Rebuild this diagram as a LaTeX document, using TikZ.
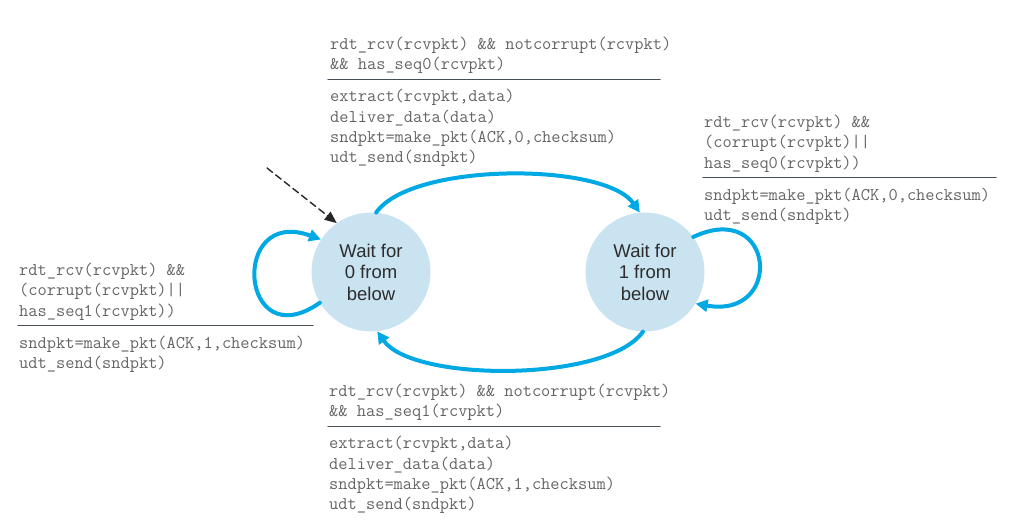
\documentclass[tikz,border=0pt]{standalone}
\usepackage{fontspec}
\setsansfont{Liberation Sans}
\usetikzlibrary{arrows.meta,positioning,calc}
\definecolor{statefill}{RGB}{201,227,241}
\definecolor{arcblue}{RGB}{0,168,228}
\definecolor{codegray}{RGB}{100,100,100}
\definecolor{rulegray}{RGB}{70,77,90}
\definecolor{statetext}{RGB}{45,45,45}
\begin{document}
\begin{tikzpicture}[x=1pt,y=1pt,line cap=round,line join=round,
    state/.style={circle,fill=statefill,minimum size=119pt,inner sep=0pt,align=center,
        text=statetext,font=\sffamily\fontsize{18.5}{21.5}\selectfont},
    guard/.style={anchor=north west,inner sep=0pt,align=left,text=codegray,
        font=\ttfamily\fontsize{17.9}{20.3}\selectfont},
    trans/.style={draw=arcblue,line width=4pt,-{Triangle[length=12pt,width=12pt]}},
    init/.style={draw=black!85,line width=1.4pt,dash pattern=on 7pt off 4pt,
        -{Triangle[length=12pt,width=10pt]}},
    sep/.style={draw=rulegray,line width=1.5pt}]
    \useasboundingbox (0,0) rectangle (1029,531);
    % states
    \node[state] (w0) at (371,259) {Wait for\\0 from\\below};
    \node[state] (w1) at (645,259) {Wait for\\1 from\\below};
    % top: 0 -> 1
    \node[guard] (g0) at (330,494) {rdt\_rcv(rcvpkt) \&\& notcorrupt(rcvpkt)\\\&\& has\_seq0(rcvpkt)};
    \node[guard,below=15pt of g0.south west,anchor=north west] (a0) {extract(rcvpkt,data)\\deliver\_data(data)\\sndpkt=make\_pkt(ACK,0,checksum)\\udt\_send(sndpkt)};
    \draw[sep] ($(g0.south west)!0.35!(a0.north west)+(-2,0)$) -- ++(332,0);
    % right: 1 -> 1
    \node[guard] (g1) at (704,416) {rdt\_rcv(rcvpkt) \&\&\\(corrupt(rcvpkt)||\\has\_seq0(rcvpkt))};
    \node[guard,below=15pt of g1.south west,anchor=north west] (a1) {sndpkt=make\_pkt(ACK,0,checksum)\\udt\_send(sndpkt)};
    \draw[sep] ($(g1.south west)!0.35!(a1.north west)+(-1,0)$) -- ++(293,0);
    % left: 0 -> 0
    \node[guard] (g2) at (19,268) {rdt\_rcv(rcvpkt) \&\&\\(corrupt(rcvpkt)||\\has\_seq1(rcvpkt))};
    \node[guard,below=15pt of g2.south west,anchor=north west] (a2) {sndpkt=make\_pkt(ACK,1,checksum)\\udt\_send(sndpkt)};
    \draw[sep] ($(g2.south west)!0.35!(a2.north west)+(-1,0)$) -- ++(295,0);
    % bottom: 1 -> 0
    \node[guard] (g3) at (329,147) {rdt\_rcv(rcvpkt) \&\& notcorrupt(rcvpkt)\\\&\& has\_seq1(rcvpkt)};
    \node[guard,below=15pt of g3.south west,anchor=north west] (a3) {extract(rcvpkt,data)\\deliver\_data(data)\\sndpkt=make\_pkt(ACK,1,checksum)\\udt\_send(sndpkt)};
    \draw[sep] ($(g3.south west)!0.35!(a3.north west)+(-1,0)$) -- ++(332,0);
    % transitions
    \draw[trans] (w0.85) to[out=55,in=125,looseness=0.6] (w1.95);
    \draw[trans] (w1.268) to[out=235,in=-55,looseness=0.6] (w0.276);
    \draw[trans] (w0.211) to[out=215,in=160,looseness=3.95] (w0.147);
    \draw[trans] (w1.36) to[out=25,in=-10,looseness=3.45] (w1.328);
    % initial state
    \coordinate (start) at (267,363);
    \draw[init] (start) -- (w0.125);
\end{tikzpicture}
\end{document}
